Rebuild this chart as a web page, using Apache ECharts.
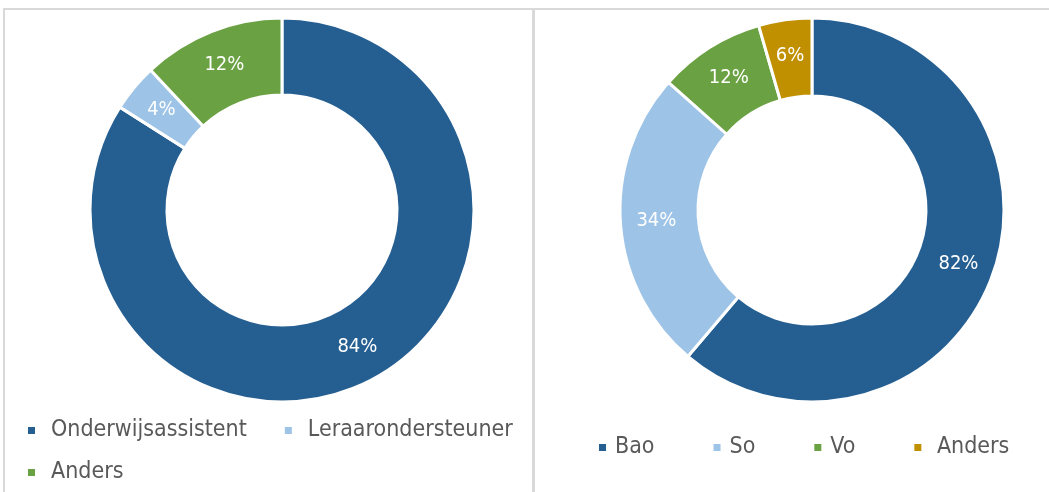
<!DOCTYPE html>
<html>
<head>
<meta charset="utf-8">
<script src="https://cdn.jsdelivr.net/npm/echarts@6/dist/echarts.min.js"></script>
<style>
  html, body { margin: 0; padding: 0; background: #fff; }
  #main { width: 1049px; height: 492px; }
</style>
</head>
<body>
<div id="main"></div>
<script>
// links: functie
const leftNames = ['Onderwijsassistent', 'Leraarondersteuner', 'Anders'];
const leftValues = [84, 4, 12];
const leftColors = ['#255E91', '#9DC3E6', '#6AA142'];
// rechts: sector
const rightNames = ['Bao', 'So', 'Vo', 'Anders'];
const rightValues = [82, 34, 12, 6];
const rightColors = ['#255E91', '#9DC3E6', '#6AA142', '#C09000'];

const font = 'DejaVu Sans Condensed';

function pieData(names, values, colors) {
  return names.map(function (n, i) {
    return { name: n, value: values[i], itemStyle: { color: colors[i] } };
  });
}
function legendData(names, colors) {
  return names.map(function (n, i) {
    return { name: n, itemStyle: { color: colors[i] } };
  });
}

const chart = echarts.init(document.getElementById('main'));

const legendBase = {
  orient: 'horizontal',
  icon: 'rect',
  itemWidth: 9,
  itemHeight: 9,
  padding: 0,
  selectedMode: false,
  textStyle: { color: '#595959', fontSize: 23, fontFamily: font, padding: [0, 0, 0, 10] }
};

const pieBase = {
  type: 'pie',
  startAngle: 90,
  clockwise: true,
  avoidLabelOverlap: false,
  silent: true,
  label: {
    show: true,
    position: 'inside',
    formatter: '{c}%',
    color: '#fff',
    fontSize: 20,
    fontFamily: font
  },
  labelLine: { show: false },
  itemStyle: { borderColor: '#fff', borderWidth: 3 }
};

chart.setOption({
  animation: false,
  backgroundColor: '#fff',
  graphic: [
    // kaders
    { type: 'rect', shape: { x: 3, y: 8, width: 1046, height: 2 }, style: { fill: '#D9D9D9' } },
    { type: 'rect', shape: { x: 3, y: 8, width: 2, height: 484 }, style: { fill: '#D9D9D9' } },
    { type: 'rect', shape: { x: 532, y: 8, width: 3, height: 484 }, style: { fill: '#D9D9D9' } }
  ],
  legend: [
    Object.assign({}, legendBase, {
      left: 26, top: 419, itemGap: 36,
      data: legendData(leftNames.slice(0, 2), leftColors.slice(0, 2))
    }),
    Object.assign({}, legendBase, {
      left: 26, top: 461,
      data: legendData(leftNames.slice(2), leftColors.slice(2))
    }),
    Object.assign({}, legendBase, {
      left: 597, top: 436, itemGap: 57,
      data: legendData(rightNames, rightColors),
      textStyle: Object.assign({}, legendBase.textStyle, { padding: [0, 0, 0, 3] }),
      formatter: function (name) { return name === 'Anders' ? ' ' + name : name; }
    })
  ],
  series: [
    Object.assign({}, pieBase, {
      center: [282, 210],
      radius: [115, 192],
      data: pieData(leftNames, leftValues, leftColors)
    }),
    Object.assign({}, pieBase, {
      center: [812, 210],
      radius: [114, 192],
      data: pieData(rightNames, rightValues, rightColors)
    })
  ]
});
</script>
</body>
</html>
